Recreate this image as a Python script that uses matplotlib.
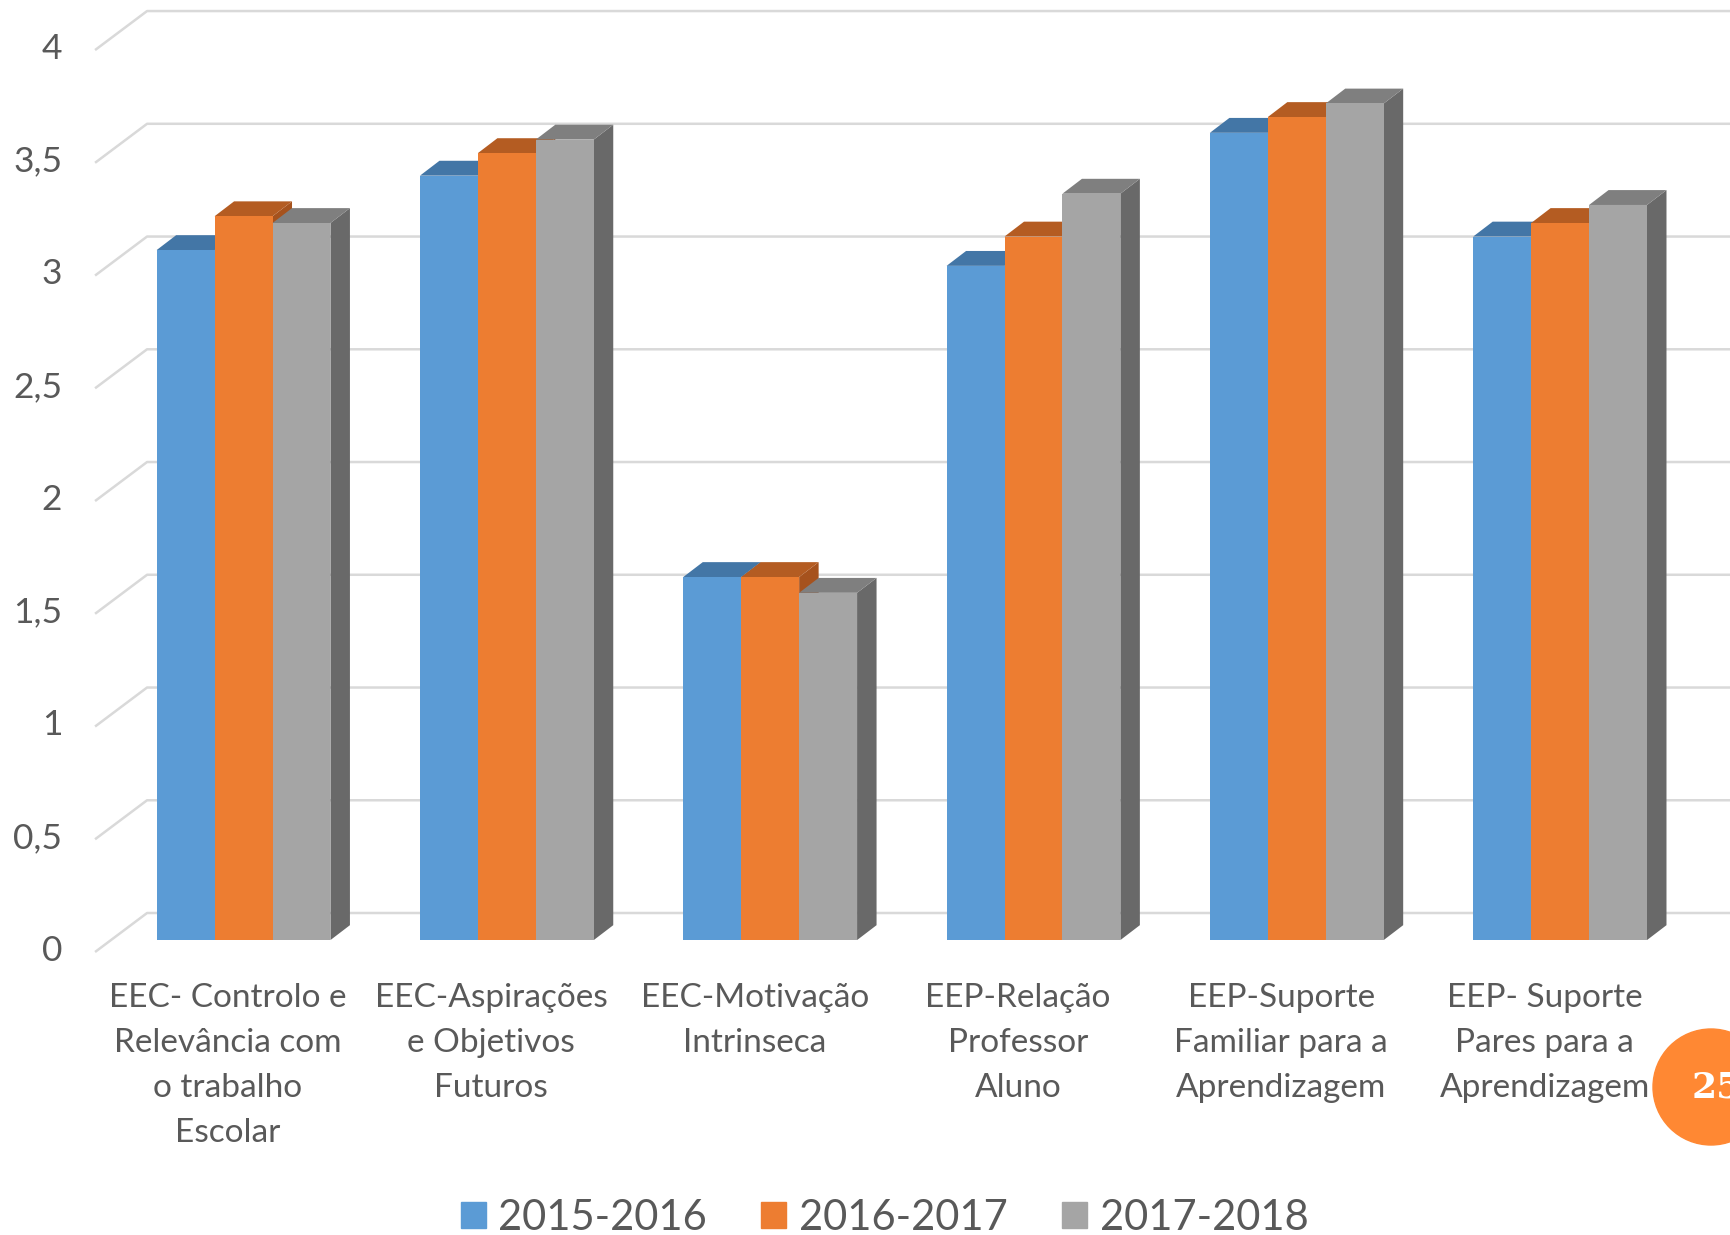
import numpy as np
import matplotlib.pyplot as plt
from matplotlib.patches import Polygon, Patch, Circle

plt.rcParams['font.family'] = ['Lato', 'DejaVu Sans']

categories = ["EEC- Controlo e\nRelevância com\no trabalho\nEscolar",
              "EEC-Aspirações\ne Objetivos\nFuturos",
              "EEC-Motivação\nIntrinseca",
              "EEP-Relação\nProfessor\nAluno",
              "EEP-Suporte\nFamiliar para a\nAprendizagem",
              "EEP- Suporte\nPares para a\nAprendizagem"]
series = ["2015-2016", "2016-2017", "2017-2018"]
v_2015 = [3.06, 3.39, 1.61, 2.99, 3.58, 3.12]
v_2016 = [3.21, 3.49, 1.61, 3.12, 3.65, 3.18]
v_2017 = [3.18, 3.55, 1.54, 3.31, 3.71, 3.26]
yticks = [0, 0.5, 1, 1.5, 2, 2.5, 3, 3.5, 4]
ytick_labels = ["0", "0,5", "1", "1,5", "2", "2,5", "3", "3,5", "4"]

front = ["#5B9BD5", "#ED7D31", "#A5A5A5"]
top = ["#4376A6", "#B45C22", "#7F7F7F"]
side = ["#3D6A96", "#A6521D", "#696969"]
txt = "#595959"

fig = plt.figure(figsize=(17.31, 12.35), dpi=100)
ax = fig.add_axes([0, 0, 1, 1])
ax.set_xlim(-0.925, 5.649)
ax.set_ylim(-1.308, 4.169)
ax.axis('off')

# perspective offsets (data units)
dx, dy = 0.074, 0.066
grid_fx, grid_bx = -0.564, -0.3665
grid_fy, grid_by = -0.053, 0.12

for v, lab in zip(yticks, ytick_labels):
    ax.plot([grid_fx, grid_bx, 5.66], [v + grid_fy, v + grid_by, v + grid_by],
            color="#D9D9D9", lw=1.8, zorder=1, solid_capstyle='butt')
    ax.text(-0.689, v + grid_fy + 0.005, lab, ha='right', va='center',
            fontsize=25.5, color=txt)

w = 0.22
x = np.arange(len(categories))
vals = [v_2015, v_2016, v_2017]
z = 2
for i in range(len(categories)):
    for j in range(3):
        x0 = x[i] + (j - 1.5) * w
        h = vals[j][i]
        ax.add_patch(Polygon([[x0 + w, 0], [x0 + w + dx, dy], [x0 + w + dx, h + dy], [x0 + w, h]],
                             closed=True, fc=side[j], ec='none', zorder=z))
        ax.add_patch(Polygon([[x0, h], [x0 + dx, h + dy], [x0 + w + dx, h + dy], [x0 + w, h]],
                             closed=True, fc=top[j], ec='none', zorder=z))
        ax.bar(x0, h, width=w, align='edge', color=front[j], zorder=z + 0.5)
        z += 1

for i, c in enumerate(categories):
    ax.text(x[i] - 0.059, -0.19, c, ha='center', va='top', fontsize=24, color=txt,
            linespacing=1.62)

handles = [Patch(color=front[j], label=series[j]) for j in range(3)]
fig.legend(handles=handles, loc='center', bbox_to_anchor=(0.511, 0.014), ncol=3,
           frameon=False, fontsize=30, labelcolor=txt, handlelength=0.6,
           handleheight=0.6, handletextpad=0.3, columnspacing=1.31)

fig.patches.append(Circle((17.11, 1.48), 0.58, transform=fig.dpi_scale_trans,
                          color="#FF8833", zorder=5))
fig.text(16.92 / 17.31, 1.48 / 12.35, "25", ha='left', va='center', fontsize=26,
         color='white', fontweight='bold', family='DejaVu Serif', zorder=6)

fig.savefig("out.png", dpi=100)
